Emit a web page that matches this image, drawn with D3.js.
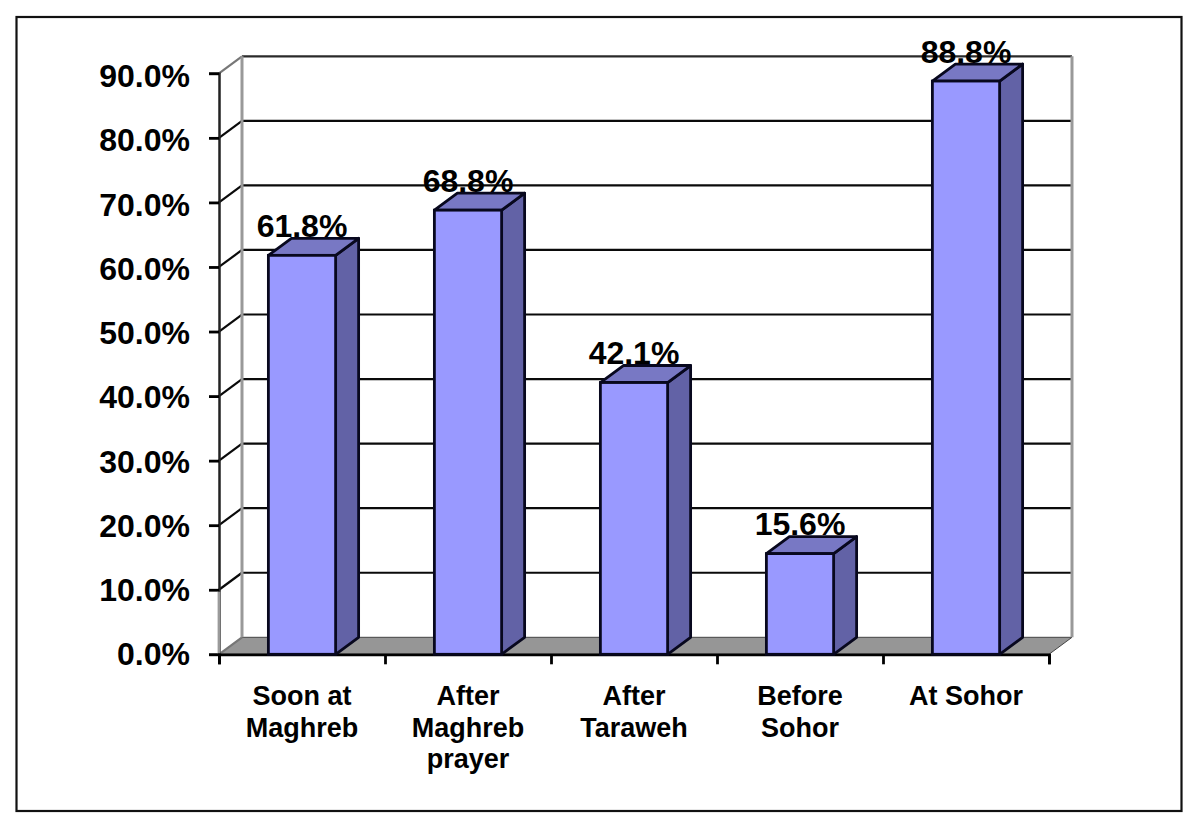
<!DOCTYPE html>
<html>
<head>
<meta charset="utf-8">
<script src="https://cdn.jsdelivr.net/npm/d3@7"></script>
<style>
  html, body { margin: 0; padding: 0; background: #fff; }
  svg { display: block; }
  text { font-family: "Liberation Sans", Arial, sans-serif; font-weight: bold; fill: #000; }
</style>
</head>
<body>
<svg id="chart" width="1200" height="826"></svg>
<script>
const categories = ['Soon at|Maghreb', 'After|Maghreb|prayer', 'After|Taraweh', 'Before|Sohor', 'At Sohor'];
const values = [61.8, 68.8, 42.1, 15.6, 88.8];
const valueLabels = ['61.8%', '68.8%', '42.1%', '15.6%', '88.8%'];
const yTicks = [0, 10, 20, 30, 40, 50, 60, 70, 80, 90];

const plot = { left: 219, right: 1049, top: 73.3, bottom: 654.3 };
const depth = { x: 23, y: -17 };

const svg = d3.select('#chart');

// outer frame
svg.append('rect')
    .attr('x', 16.5).attr('y', 17)
    .attr('width', 1165).attr('height', 794)
    .attr('fill', '#fff').attr('stroke', '#111').attr('stroke-width', 2.2);

const x = d3.scaleBand()
    .domain(categories)
    .range([plot.left, plot.right])
    .paddingInner(0.595)
    .paddingOuter(0.2975);

const y = d3.scaleLinear()
    .domain([0, 90])
    .range([plot.bottom, plot.top]);

// edges of the categories, for the x axis ticks
const xEdges = d3.scaleLinear().domain([0, categories.length]).range([plot.left, plot.right]);

// floor
svg.append('path')
    .attr('d', d3.line()([
        [plot.left, y(0)],
        [plot.left + depth.x, y(0) + depth.y],
        [plot.right + depth.x, y(0) + depth.y],
        [plot.right, y(0)]
    ]) + 'Z')
    .attr('fill', '#969696')
    .attr('stroke', '#444')
    .attr('stroke-width', 1);

// back wall gridlines
svg.append('g')
    .selectAll('line')
    .data(yTicks.slice(1))
    .enter()
    .append('line')
    .attr('x1', plot.left + depth.x)
    .attr('x2', plot.right + depth.x)
    .attr('y1', d => y(d) + depth.y)
    .attr('y2', d => y(d) + depth.y)
    .attr('stroke', d => d === 90 ? '#2a2a2a' : '#0a0a0a')
    .attr('stroke-width', 2.2);

// side wall lines
svg.append('g')
    .selectAll('line')
    .data(yTicks)
    .enter()
    .append('line')
    .attr('x1', plot.left)
    .attr('x2', plot.left + depth.x)
    .attr('y1', d => y(d))
    .attr('y2', d => y(d) + depth.y)
    .attr('stroke', d => d === 90 || d === 0 ? '#777' : '#0a0a0a')
    .attr('stroke-width', 2.2);

// back wall verticals
svg.append('g')
    .selectAll('line')
    .data([plot.left + depth.x, plot.right + depth.x])
    .enter()
    .append('line')
    .attr('x1', d => d)
    .attr('x2', d => d)
    .attr('y1', y(90) + depth.y)
    .attr('y2', y(0) + depth.y)
    .attr('stroke', '#999')
    .attr('stroke-width', 3);

// y axis
const yAxis = d3.axisLeft(y).tickValues(yTicks).tickSize(10).tickFormat(d => d.toFixed(1) + '%');
const yG = svg.append('g')
    .attr('transform', `translate(${plot.left}, 0)`)
    .call(yAxis);
yG.select('.domain').attr('stroke', '#222').attr('stroke-width', 2.5);
yG.selectAll('.tick line').attr('stroke', '#000').attr('stroke-width', 2.8);
yG.selectAll('.tick text')
    .attr('x', -29)
    .attr('dy', d => 10.4 + d / 30)
    .style('font-size', '32px')
    .style('font-family', '"Liberation Sans", Arial, sans-serif');

// lowest stretch of the axis is gray in the original
svg.append('line')
    .attr('x1', plot.left).attr('x2', plot.left)
    .attr('y1', y(10) + 2).attr('y2', y(0) - 1)
    .attr('stroke', '#9a9a9a')
    .attr('stroke-width', 2.8);

// x axis, ticks only, labels are added below
const xAxis = d3.axisBottom(xEdges).tickValues(d3.range(categories.length + 1)).tickSize(10).tickFormat('');
const xG = svg.append('g')
    .attr('transform', `translate(0, ${plot.bottom})`)
    .call(xAxis);
xG.select('.domain').attr('stroke', '#000').attr('stroke-width', 2.8);
xG.selectAll('.tick line').attr('stroke', '#000').attr('stroke-width', 2.8);

// bars
const bars = svg.append('g')
    .selectAll('g')
    .data(categories.map((c, i) => ({ c, v: values[i], label: valueLabels[i] })))
    .enter()
    .append('g');

const barStroke = { stroke: '#08081e', width: 2.8 };

bars.append('path') // side face
    .attr('d', d => {
        const r = x(d.c) + x.bandwidth();
        return d3.line()([
            [r, y(0)],
            [r, y(d.v)],
            [r + depth.x, y(d.v) + depth.y],
            [r + depth.x, y(0) + depth.y]
        ]) + 'Z';
    })
    .attr('fill', '#6262a6')
    .attr('stroke', barStroke.stroke)
    .attr('stroke-width', barStroke.width)
    .attr('stroke-linejoin', 'round');

bars.append('path') // top face
    .attr('d', d => {
        const l = x(d.c), r = l + x.bandwidth();
        return d3.line()([
            [l, y(d.v)],
            [l + depth.x, y(d.v) + depth.y],
            [r + depth.x, y(d.v) + depth.y],
            [r, y(d.v)]
        ]) + 'Z';
    })
    .attr('fill', '#7878c4')
    .attr('stroke', barStroke.stroke)
    .attr('stroke-width', barStroke.width)
    .attr('stroke-linejoin', 'round');

bars.append('rect') // front face
    .attr('x', d => x(d.c))
    .attr('y', d => y(d.v))
    .attr('width', x.bandwidth())
    .attr('height', d => y(0) - y(d.v))
    .attr('fill', '#9999ff')
    .attr('stroke', barStroke.stroke)
    .attr('stroke-width', barStroke.width);

// value labels
bars.append('text')
    .attr('x', d => x(d.c) + x.bandwidth() / 2)
    .attr('y', d => y(d.v) - 18.5)
    .attr('text-anchor', 'middle')
    .style('font-size', '32px')
    .text(d => d.label);

// category labels
const catText = svg.append('g')
    .selectAll('text')
    .data(categories)
    .enter()
    .append('text')
    .attr('text-anchor', 'middle')
    .style('font-size', '27px');

catText.selectAll('tspan')
    .data(d => d.split('|').map(t => ({ t, c: d })))
    .enter()
    .append('tspan')
    .attr('x', d => x(d.c) + x.bandwidth() / 2)
    .attr('y', (d, i) => 705 + i * 31.5)
    .text(d => d.t);
</script>
</body>
</html>
